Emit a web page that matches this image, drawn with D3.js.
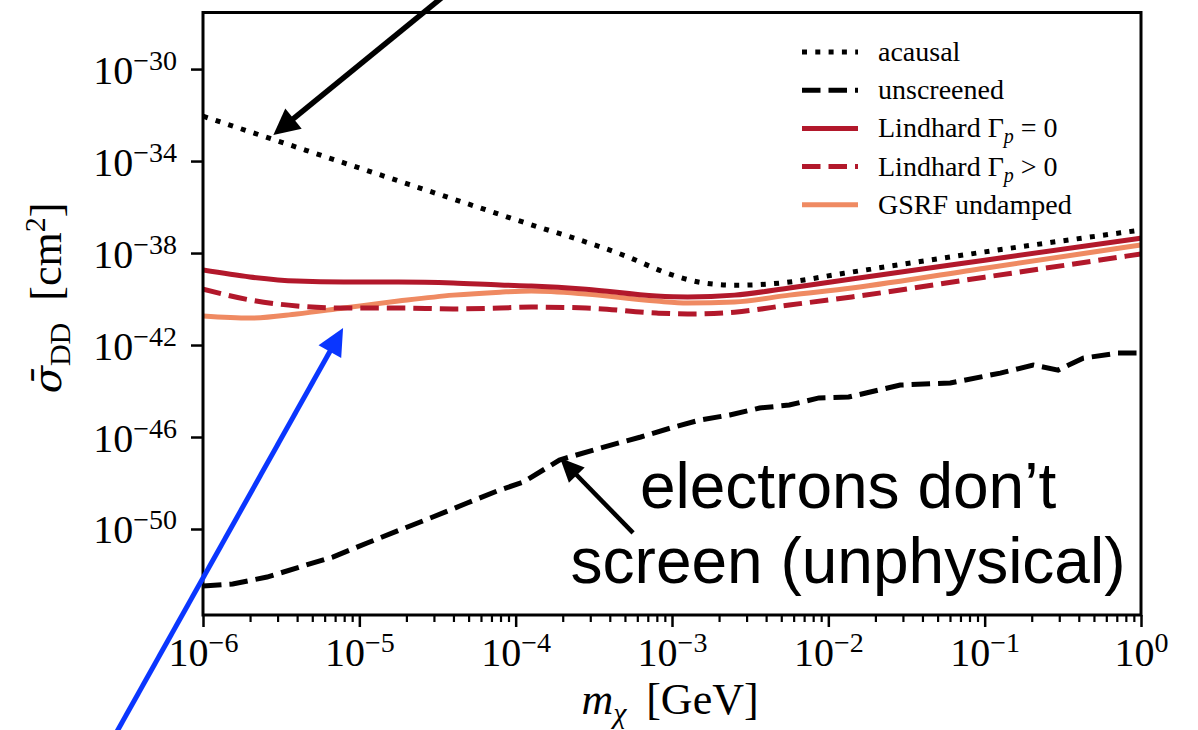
<!DOCTYPE html>
<html lang="en">
<head>
<meta charset="UTF-8">
<title>Direct detection cross section vs mass</title>
<script src="https://d3js.org/d3.v7.min.js"></script>
<style>
  body { margin: 0; background: white; }
  svg { display: block; }
  .serif { font-family: "Liberation Serif", "DejaVu Serif", serif; fill: black; }
  .note { font-family: "Liberation Sans", Arial, sans-serif; font-size: 64px; fill: black; }
</style>
</head>
<body>
<svg width="1198" height="730"></svg>
<script>
// all values are log10: mass in GeV, cross section in cm^2
const massGrid      = [-6, -5.7, -5.4, -5.1, -4.75, -4.4, -4.1, -3.9, -3.55, -3.1, -2.9, -2.6, -2.25, -1.85, -1, 0];
const lindhard0     = [-38.74, -39.04, -39.22, -39.26, -39.26, -39.30, -39.39, -39.43, -39.57, -39.87, -39.91, -39.83, -39.52, -39.13, -38.31, -37.35];
const lindhardDamp  = [-39.57, -40.04, -40.30, -40.39, -40.39, -40.43, -40.39, -40.35, -40.39, -40.61, -40.65, -40.57, -40.26, -39.91, -39.05, -38.04];
const gsrfUndamped  = [-40.74, -40.83, -40.65, -40.39, -40.09, -39.83, -39.70, -39.65, -39.78, -40.09, -40.17, -40.13, -39.83, -39.52, -38.66, -37.65];

const acausalMass   = [-6, -5, -4, -3.3, -3.0, -2.8, -2.6, -2.3, -1.9, -1, 0];
const acausal       = [-32.05, -34.3, -36.55, -38.12, -38.95, -39.3, -39.4, -39.3, -38.88, -37.95, -37.0];

const unscrMass     = [-6, -5.81, -5.59, -5.38, -5.17, -4.95, -4.74, -4.53, -4.31, -4.10, -3.95, -3.72, -3.46, -3.20, -3.01,
                       -2.82, -2.63, -2.44, -2.25, -2.06, -1.87, -1.54, -1.22, -0.90, -0.69, -0.53, -0.37, -0.15, 0];
const unscreened    = [-52.48, -52.39, -52.09, -51.65, -51.22, -50.61, -50.04, -49.48, -48.87, -48.30, -47.96, -47.0, -46.48, -46.0, -45.61,
                       -45.26, -45.04, -44.74, -44.61, -44.30, -44.26, -43.74, -43.65, -43.22, -42.87, -43.09, -42.57, -42.35, -42.35];

const xTickExps = [-6, -5, -4, -3, -2, -1, 0];
const yTickExps = [-50, -46, -42, -38, -34, -30];
const xDomainExp = [-6, 0];
const yDomainExp = [-53.74, -27.54];

const svg = d3.select("svg"),
      margin = { top: 12.5, right: 57, bottom: 115, left: 203 },
      width = +svg.attr("width") - margin.left - margin.right,
      height = +svg.attr("height") - margin.top - margin.bottom,
      g = svg.append("g").attr("transform", `translate(${margin.left},${margin.top})`);

const p10 = e => Math.pow(10, e);

const x = d3.scaleLog().domain(xDomainExp.map(p10)).range([0, width]);
const y = d3.scaleLog().domain(yDomainExp.map(p10)).range([height, 0]);

g.append("clipPath").attr("id", "plot-clip")
  .append("rect").attr("width", width).attr("height", height);

const series = [
  { name: "acausal", mass: acausalMass, vals: acausal, color: "#000", dash: "5,8.3", curve: d3.curveMonotoneX },
  { name: "unscreened", mass: unscrMass, vals: unscreened, color: "#000", dash: "18.5,8", curve: d3.curveLinear },
  { name: "lindhard0", mass: massGrid, vals: lindhard0, color: "#b2182b", dash: null, curve: d3.curveMonotoneX },
  { name: "lindhardDamp", mass: massGrid, vals: lindhardDamp, color: "#b2182b", dash: "18.5,8", curve: d3.curveMonotoneX },
  { name: "gsrf", mass: massGrid, vals: gsrfUndamped, color: "#ef8a62", dash: null, curve: d3.curveMonotoneX }
];

const lines = g.append("g").attr("clip-path", "url(#plot-clip)");
// draw order: orange under the reds like the original
[series[4], series[3], series[2], series[0], series[1]].forEach(s => {
  const pts = s.mass.map((m, i) => [p10(m), p10(s.vals[i])]);
  lines.append("path")
    .datum(pts)
    .attr("fill", "none")
    .attr("stroke", s.color)
    .attr("stroke-width", 5)
    .attr("stroke-dasharray", s.dash)
    .attr("d", d3.line().x(d => x(d[0])).y(d => y(d[1])).curve(s.curve));
});

// minor x ticks
const minorX = [];
for (let e = -6; e < 0; e++) for (let k = 2; k <= 9; k++) minorX.push(k * p10(e));

g.append("g")
  .attr("transform", `translate(0,${height})`)
  .call(d3.axisBottom(x).tickValues(minorX).tickSize(7).tickFormat(""))
  .call(a => a.select(".domain").remove())
  .selectAll("line").attr("stroke-width", 2.2);

const xAxis = g.append("g")
  .attr("transform", `translate(0,${height})`)
  .call(d3.axisBottom(x).tickValues(xTickExps.map(p10)).tickSize(12).tickFormat(""));
xAxis.select(".domain").remove();
xAxis.selectAll("line").attr("stroke-width", 2.5);
xAxis.selectAll(".tick").each(function(d) {
  const t = d3.select(this).append("text")
    .attr("class", "serif")
    .attr("y", 51)
    .attr("text-anchor", "middle")
    .style("font-size", "40px");
  t.append("tspan").text("10");
  const e = Math.round(Math.log10(d));
  t.append("tspan").attr("dy", -14).style("font-size", "28px").text(e < 0 ? "\u2212" + (-e) : String(e));
});

const yAxis = g.append("g")
  .call(d3.axisLeft(y).tickValues(yTickExps.map(p10)).tickSize(12).tickFormat(""));
yAxis.select(".domain").remove();
yAxis.selectAll("line").attr("stroke-width", 2.5);
yAxis.selectAll(".tick").each(function(d) {
  const t = d3.select(this).append("text")
    .attr("class", "serif")
    .attr("x", -26)
    .attr("y", 14)
    .attr("text-anchor", "end")
    .style("font-size", "40px");
  t.append("tspan").text("10");
  const e = Math.round(Math.log10(d));
  t.append("tspan").attr("dy", -14).style("font-size", "28px").text("\u2212" + (-e));
});

// frame
g.append("rect")
  .attr("width", width).attr("height", height)
  .attr("fill", "none").attr("stroke", "black").attr("stroke-width", 3);

// axis titles
const xt = svg.append("text").attr("class", "serif")
  .attr("x", 670).attr("y", 714).attr("text-anchor", "middle").style("font-size", "44px");
xt.append("tspan").style("font-style", "italic").text("m");
xt.append("tspan").attr("dy", 9).style("font-style", "italic").style("font-size", "30px").text("\u03C7");
xt.append("tspan").attr("dy", -9).text("\u2009 [GeV]");

const yt = svg.append("text").attr("class", "serif")
  .attr("transform", "translate(61,298) rotate(-90)")
  .attr("text-anchor", "middle").style("font-size", "44px");
yt.append("tspan").style("font-style", "italic").style("font-family", "DejaVu Serif")
  .style("font-size", "40px").text("\u03C3\u0304");
yt.append("tspan").attr("dy", 9).style("font-size", "30px").text("DD");
yt.append("tspan").attr("dy", -9).text("\u2002[cm");
yt.append("tspan").attr("dy", -16).style("font-size", "30px").text("2");
yt.append("tspan").attr("dy", 16).text("]");

// legend
const legendRows = [
  { s: series[0], label: [["acausal"]] },
  { s: series[1], label: [["unscreened"]] },
  { s: series[2], label: [["Lindhard \u0393"], ["p", "sub"], [" = 0"]] },
  { s: series[3], label: [["Lindhard \u0393"], ["p", "sub"], [" > 0"]] },
  { s: series[4], label: [["GSRF undamped"]] }
];
const legend = svg.append("g").attr("transform", "translate(802,52)");
legendRows.forEach((r, i) => {
  const row = legend.append("g").attr("transform", `translate(0,${i * 38.2})`);
  row.append("line").attr("x1", 0).attr("x2", 56)
    .attr("stroke", r.s.color).attr("stroke-width", 5)
    .attr("stroke-dasharray", r.s.dash);
  const t = row.append("text").attr("class", "serif")
    .attr("x", 76).attr("y", 9).style("font-size", "28px")
    .attr("xml:space", "preserve");
  r.label.forEach(([txt, kind]) => {
    if (kind === "sub") {
      t.append("tspan").attr("dy", 6).style("font-style", "italic").style("font-size", "20px").text(txt);
    } else {
      const sp = t.append("tspan").text(txt);
      if (t.selectAll("tspan").size() > 1) sp.attr("dy", -6);
    }
  });
});

// annotations (positions in data space, log10 units)
const arrows = [
  { from: [-4.452, -26.78], to: [-5.55, -32.87], color: "#000", w: 5.5, hl: 26, hw: 13 },
  { from: [-6.563, -58.96], to: [-5.104, -41.26], color: "#0a36ff", w: 5, hl: 27, hw: 13 },
  { from: [-3.249, -50.17], to: [-3.716, -46.91], color: "#000", w: 4.5, hl: 24, hw: 11 }
];
const ann = g.append("g");
arrows.forEach(a => {
  const x0 = x(p10(a.from[0])), y0 = y(p10(a.from[1]));
  const x1 = x(p10(a.to[0])), y1 = y(p10(a.to[1]));
  const len = Math.hypot(x1 - x0, y1 - y0);
  const ux = (x1 - x0) / len, uy = (y1 - y0) / len;
  const bx = x1 - ux * a.hl, by = y1 - uy * a.hl;
  ann.append("line")
    .attr("x1", x0).attr("y1", y0).attr("x2", bx + ux * 2).attr("y2", by + uy * 2)
    .attr("stroke", a.color).attr("stroke-width", a.w);
  ann.append("path")
    .attr("fill", a.color)
    .attr("d", `M${x1},${y1}L${bx - uy * a.hw},${by + ux * a.hw}L${bx + uy * a.hw},${by - ux * a.hw}Z`);
});

const noteLines = [
  { text: "electrons don\u2019t", at: [-1.874, -49.09] },
  { text: "screen (unphysical)", at: [-1.874, -52.35] }
];
noteLines.forEach(n => {
  g.append("text").attr("class", "note")
    .attr("x", x(p10(n.at[0]))).attr("y", y(p10(n.at[1])))
    .attr("text-anchor", "middle")
    .text(n.text);
});
</script>
</body>
</html>
